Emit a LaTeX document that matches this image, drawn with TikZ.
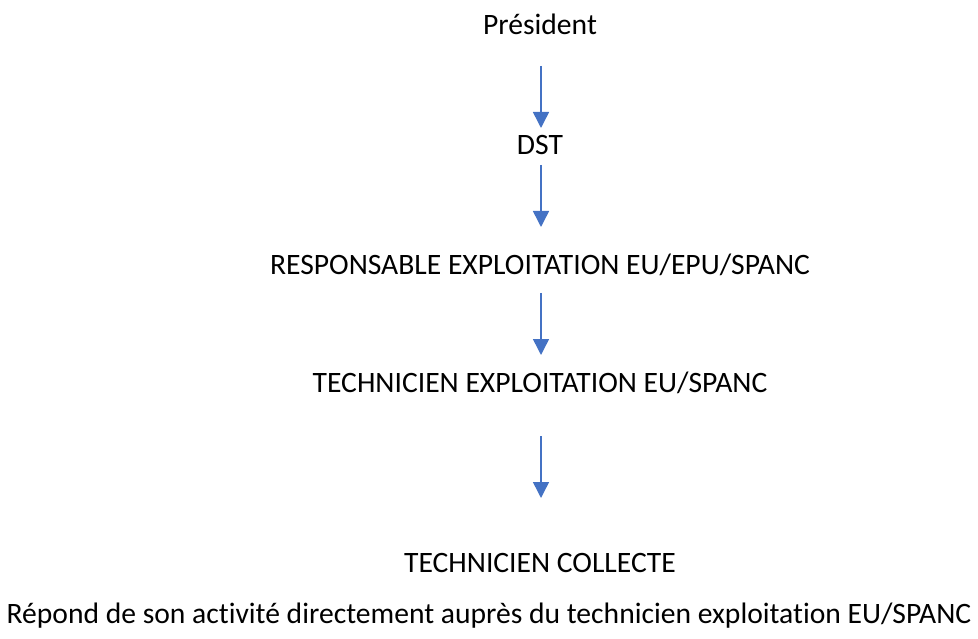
\documentclass[tikz,border=0pt]{standalone}
\usepackage{fontspec}
\setmainfont[Ligatures={NoCommon}]{Carlito}
\usetikzlibrary{arrows.meta}
\definecolor{arrowblue}{HTML}{4472C4}
\tikzset{
  lbl/.style={inner sep=0pt, font=\fontsize{29.6pt}{34pt}\selectfont, anchor=center},
  conn/.style={draw=arrowblue, line width=1.5pt, -{Triangle[width=16pt,length=16pt]}}
}
\begin{document}
\begin{tikzpicture}[x=1pt,y=1pt]
\useasboundingbox (0,0) rectangle (978,-639);
\node[lbl] (pres) at (540,-24) {Président};
\node[lbl] (dst) at (540,-145) {DST};
\node[lbl] (resp) at (540,-265) {RESPONSABLE EXPLOITATION EU/EPU/SPANC};
\node[lbl] (tech) at (540,-383) {TECHNICIEN EXPLOITATION EU/SPANC};
\node[lbl] (coll) at (540,-563) {TECHNICIEN COLLECTE};
\node[lbl] (note) at (489,-616) {Répond de son activité directement auprès du technicien exploitation EU/SPANC};
\coordinate (a1s) at (541,-66);
\coordinate (a1e) at (541,-128);
\coordinate (a2s) at (541,-165);
\coordinate (a2e) at (541,-227);
\coordinate (a3s) at (541,-293);
\coordinate (a3e) at (541,-355);
\coordinate (a4s) at (541,-436);
\coordinate (a4e) at (541,-498);
\draw[conn] (a1s) -- (a1e);
\draw[conn] (a2s) -- (a2e);
\draw[conn] (a3s) -- (a3e);
\draw[conn] (a4s) -- (a4e);
\end{tikzpicture}
\end{document}
